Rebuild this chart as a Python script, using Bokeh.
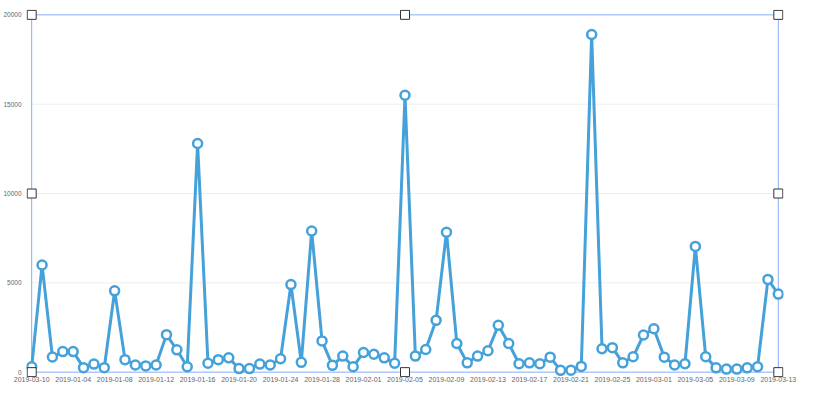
import pandas as pd
from bokeh.plotting import figure
from bokeh.models import FixedTicker, Range1d, ColumnDataSource
from bokeh.embed import file_html
from bokeh.resources import INLINE

dates = ["2019-03-10"] + [d.strftime("%Y-%m-%d") for d in pd.date_range("2019-01-01", "2019-03-13")]
values = [300, 6000, 850, 1150, 1150, 250, 450, 250, 4550, 700,
          400, 350, 400, 2100, 1250, 300, 12800, 500, 700, 800,
          200, 200, 450, 400, 750, 4900, 550, 7900, 1750, 380,
          900, 300, 1100, 1000, 800, 500, 15500, 900, 1270, 2900,
          7830, 1600, 520, 900, 1200, 2620, 1600, 470, 520, 470,
          840, 100, 110, 320, 18900, 1310, 1370, 520, 860, 2080,
          2430, 840, 400, 470, 7040, 860, 240, 170, 170, 240,
          300, 5190, 4370]
y_ticks = [0, 5000, 10000, 15000, 20000]
label_step = 4

n = len(dates)
x0, x1 = 0, n - 1
y0, y1 = y_ticks[0], y_ticks[-1]
src = ColumnDataSource(dict(x=list(range(n)), y=values))

# small padding around the data box so the selection handles are not clipped
p = figure(width=797, height=384, output_backend="svg", toolbar_location=None,
           x_range=Range1d(x0 - 0.5, x1 + 0.5), y_range=Range1d(y0 - 300, y1 + 300),
           min_border_left=16, min_border_right=14, min_border_top=9, min_border_bottom=5)
p.outline_line_color = None
p.background_fill_color = "white"
p.border_fill_color = "white"
p.grid.visible = False

# horizontal grid lines
p.segment(x0=[x0] * 3, x1=[x1] * 3, y0=y_ticks[1:-1], y1=y_ticks[1:-1],
          line_color="#eeeeee", line_width=1)
# box around the plot area
p.quad(left=[x0], right=[x1], bottom=[y0], top=[y1], fill_color=None,
       line_color="#88abf6", line_width=1)

p.line("x", "y", source=src, line_color="#45a1d9", line_width=3)
p.scatter("x", "y", source=src, marker="circle", size=9, fill_color="white",
          line_color="#45a1d9", line_width=2.5)

# selection handles
xm = (x0 + x1) / 2
ym = (y0 + y1) / 2
hx = [x0, xm, x1, x0, x1, x0, xm, x1]
hy = [y1, y1, y1, ym, ym, y0, y0, y0]
p.scatter(hx, hy, marker="square", size=9, fill_color="white",
          line_color="#333333", line_width=1)

p.yaxis.ticker = FixedTicker(ticks=y_ticks)
tick_pos = list(range(0, n, label_step))
p.xaxis.ticker = FixedTicker(ticks=tick_pos)
p.xaxis.major_label_overrides = {i: dates[i] for i in tick_pos}

for ax in (p.xaxis, p.yaxis):
    ax.axis_line_color = None
    ax.major_tick_line_color = None
    ax.minor_tick_line_color = None
    ax.major_label_text_font = "Liberation Sans"
    ax.major_label_text_color = "#666666"
p.xaxis.major_label_text_font_size = "7px"
p.yaxis.major_label_text_font_size = "6.5px"
p.xaxis.major_label_standoff = -7
p.yaxis.major_label_standoff = -1

open("out.html", "w").write(file_html(p, INLINE))
